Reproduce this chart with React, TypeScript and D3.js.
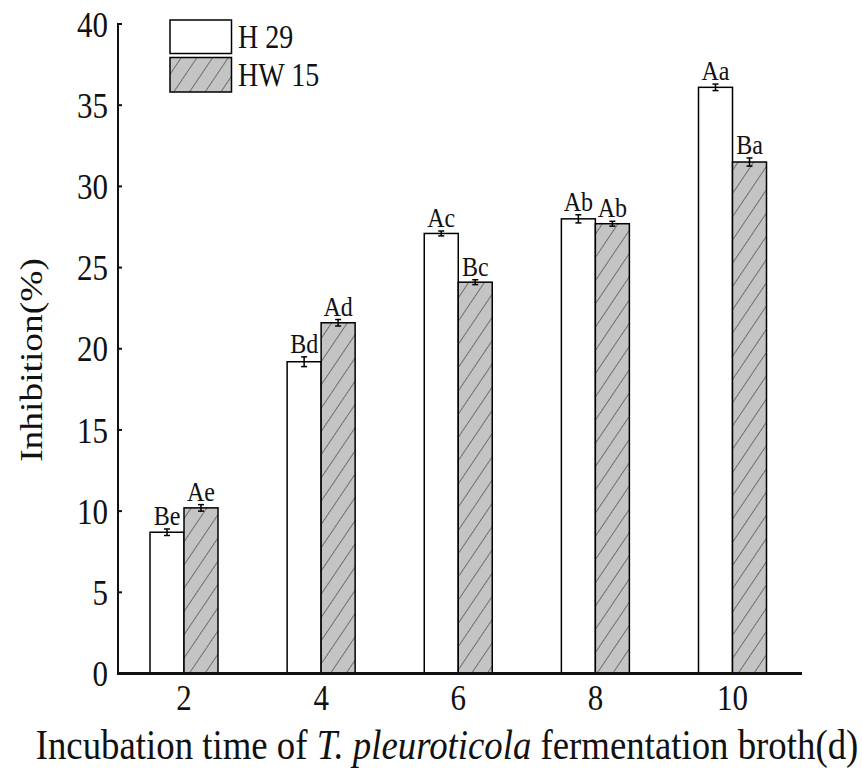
import React from "react";
import * as d3 from "d3";

const categories = ["2", "4", "6", "8", "10"];
const seriesNames = ["H 29", "HW 15"];
const h29Values = [8.7, 19.2, 27.1, 28.0, 36.1];
const hw15Values = [10.2, 21.6, 24.1, 27.7, 31.5];
const h29Errors = [0.2, 0.3, 0.15, 0.25, 0.2];
const hw15Errors = [0.2, 0.2, 0.15, 0.15, 0.25];
const h29Letters = ["Be", "Bd", "Ac", "Ab", "Aa"];
const hw15Letters = ["Ae", "Ad", "Bc", "Ab", "Ba"];
const yTicks = [0, 5, 10, 15, 20, 25, 30, 35, 40];

const W = 862;
const H = 772;
const FONT = "'Liberation Serif', 'Times New Roman', serif";
const SY = 1.17; // vertical stretch of glyphs in the reference

export default function App() {
  const x = d3.scalePoint<string>().domain(categories).range([184, 732.5]);
  const y = d3.scaleLinear().domain([0, 40]).range([673.5, 24]);
  const barW = 34;
  const axisX = 118;

  const series = [
    { name: seriesNames[0], values: h29Values, errors: h29Errors, letters: h29Letters, fill: "#ffffff", offset: -barW },
    { name: seriesNames[1], values: hw15Values, errors: hw15Errors, letters: hw15Letters, fill: "url(#hatch)", offset: 0 },
  ];

  return (
    <svg width={W} height={H} style={{ position: "absolute", left: 0, top: 0, background: "#fff" }}>
      <defs>
        <pattern id="hatch" patternUnits="userSpaceOnUse" width="13" height="13" patternTransform="rotate(34)">
          <rect width="13" height="13" fill="#c4c4c4" />
          <line x1="0" y1="0" x2="0" y2="13" stroke="#2a2a2a" strokeWidth="1.1" />
        </pattern>
      </defs>

      {/* bars */}
      {series.map((s) =>
        categories.map((c, i) => {
          const x0 = (x(c) as number) + s.offset;
          const top = y(s.values[i]);
          const eTop = y(s.values[i] + s.errors[i]);
          const eBot = y(s.values[i] - s.errors[i]);
          const cx = x0 + barW / 2;
          return (
            <g key={s.name + c}>
              <rect x={x0} y={top} width={barW} height={y(0) - top} fill={s.fill} stroke="#000" strokeWidth={1.5} />
              <line x1={cx} x2={cx} y1={eTop} y2={eBot} stroke="#000" strokeWidth={1.5} />
              <line x1={cx - 3} x2={cx + 3} y1={eTop} y2={eTop} stroke="#000" strokeWidth={1.5} />
              <line x1={cx - 3} x2={cx + 3} y1={eBot} y2={eBot} stroke="#000" strokeWidth={1.5} />
              <text
                transform={`translate(${cx},${eTop - 4}) scale(1,${SY})`}
                textAnchor="middle"
                fontFamily={FONT}
                fontSize={24}
                fill="#111"
              >
                {s.letters[i]}
              </text>
            </g>
          );
        })
      )}

      {/* y axis */}
      <line x1={axisX} x2={axisX} y1={y(40) - 1} y2={y(0)} stroke="#111" strokeWidth={2} />
      {yTicks.map((t) => (
        <g key={t}>
          <line x1={axisX} x2={axisX + 4} y1={y(t)} y2={y(t)} stroke="#111" strokeWidth={2} />
          <text
            transform={`translate(108,${y(t)}) scale(1,${SY})`}
            textAnchor="end"
            dy="0.35em"
            fontFamily={FONT}
            fontSize={31}
            fill="#111"
          >
            {t}
          </text>
        </g>
      ))}

      {/* x axis */}
      <line x1={axisX - 1} x2={802} y1={y(0)} y2={y(0)} stroke="#111" strokeWidth={3} />
      {categories.map((c) => (
        <text
          key={c}
          transform={`translate(${x(c)},${697}) scale(1,${SY})`}
          textAnchor="middle"
          dy="0.35em"
          fontFamily={FONT}
          fontSize={31}
          fill="#111"
        >
          {c}
        </text>
      ))}

      {/* axis titles */}
      <text
        transform={`translate(447,759) scale(1,${SY})`}
        textAnchor="middle"
        fontFamily={FONT}
        fontSize={36.8}
        fill="#111"
      >
        Incubation time of <tspan fontStyle="italic">T. pleuroticola</tspan> fermentation broth(d)
      </text>
      <text
        transform={`translate(42,360) scale(1,${SY}) rotate(-90)`}
        textAnchor="middle"
        fontFamily={FONT}
        fontSize={32}
        fill="#111"
      >
        Inhibition(%)
      </text>

      {/* legend */}
      <rect x={170} y={20} width={61.5} height={33.5} fill="#fff" stroke="#000" strokeWidth={1.5} />
      <rect x={170} y={57.5} width={61.5} height={34.5} fill="url(#hatch)" stroke="#000" strokeWidth={1.5} />
      <text transform={`translate(238,37) scale(1,${SY})`} dy="0.35em" fontFamily={FONT} fontSize={28} fill="#111">
        {seriesNames[0]}
      </text>
      <text transform={`translate(238,75) scale(1,${SY})`} dy="0.35em" fontFamily={FONT} fontSize={28} fill="#111">
        {seriesNames[1]}
      </text>
    </svg>
  );
}
